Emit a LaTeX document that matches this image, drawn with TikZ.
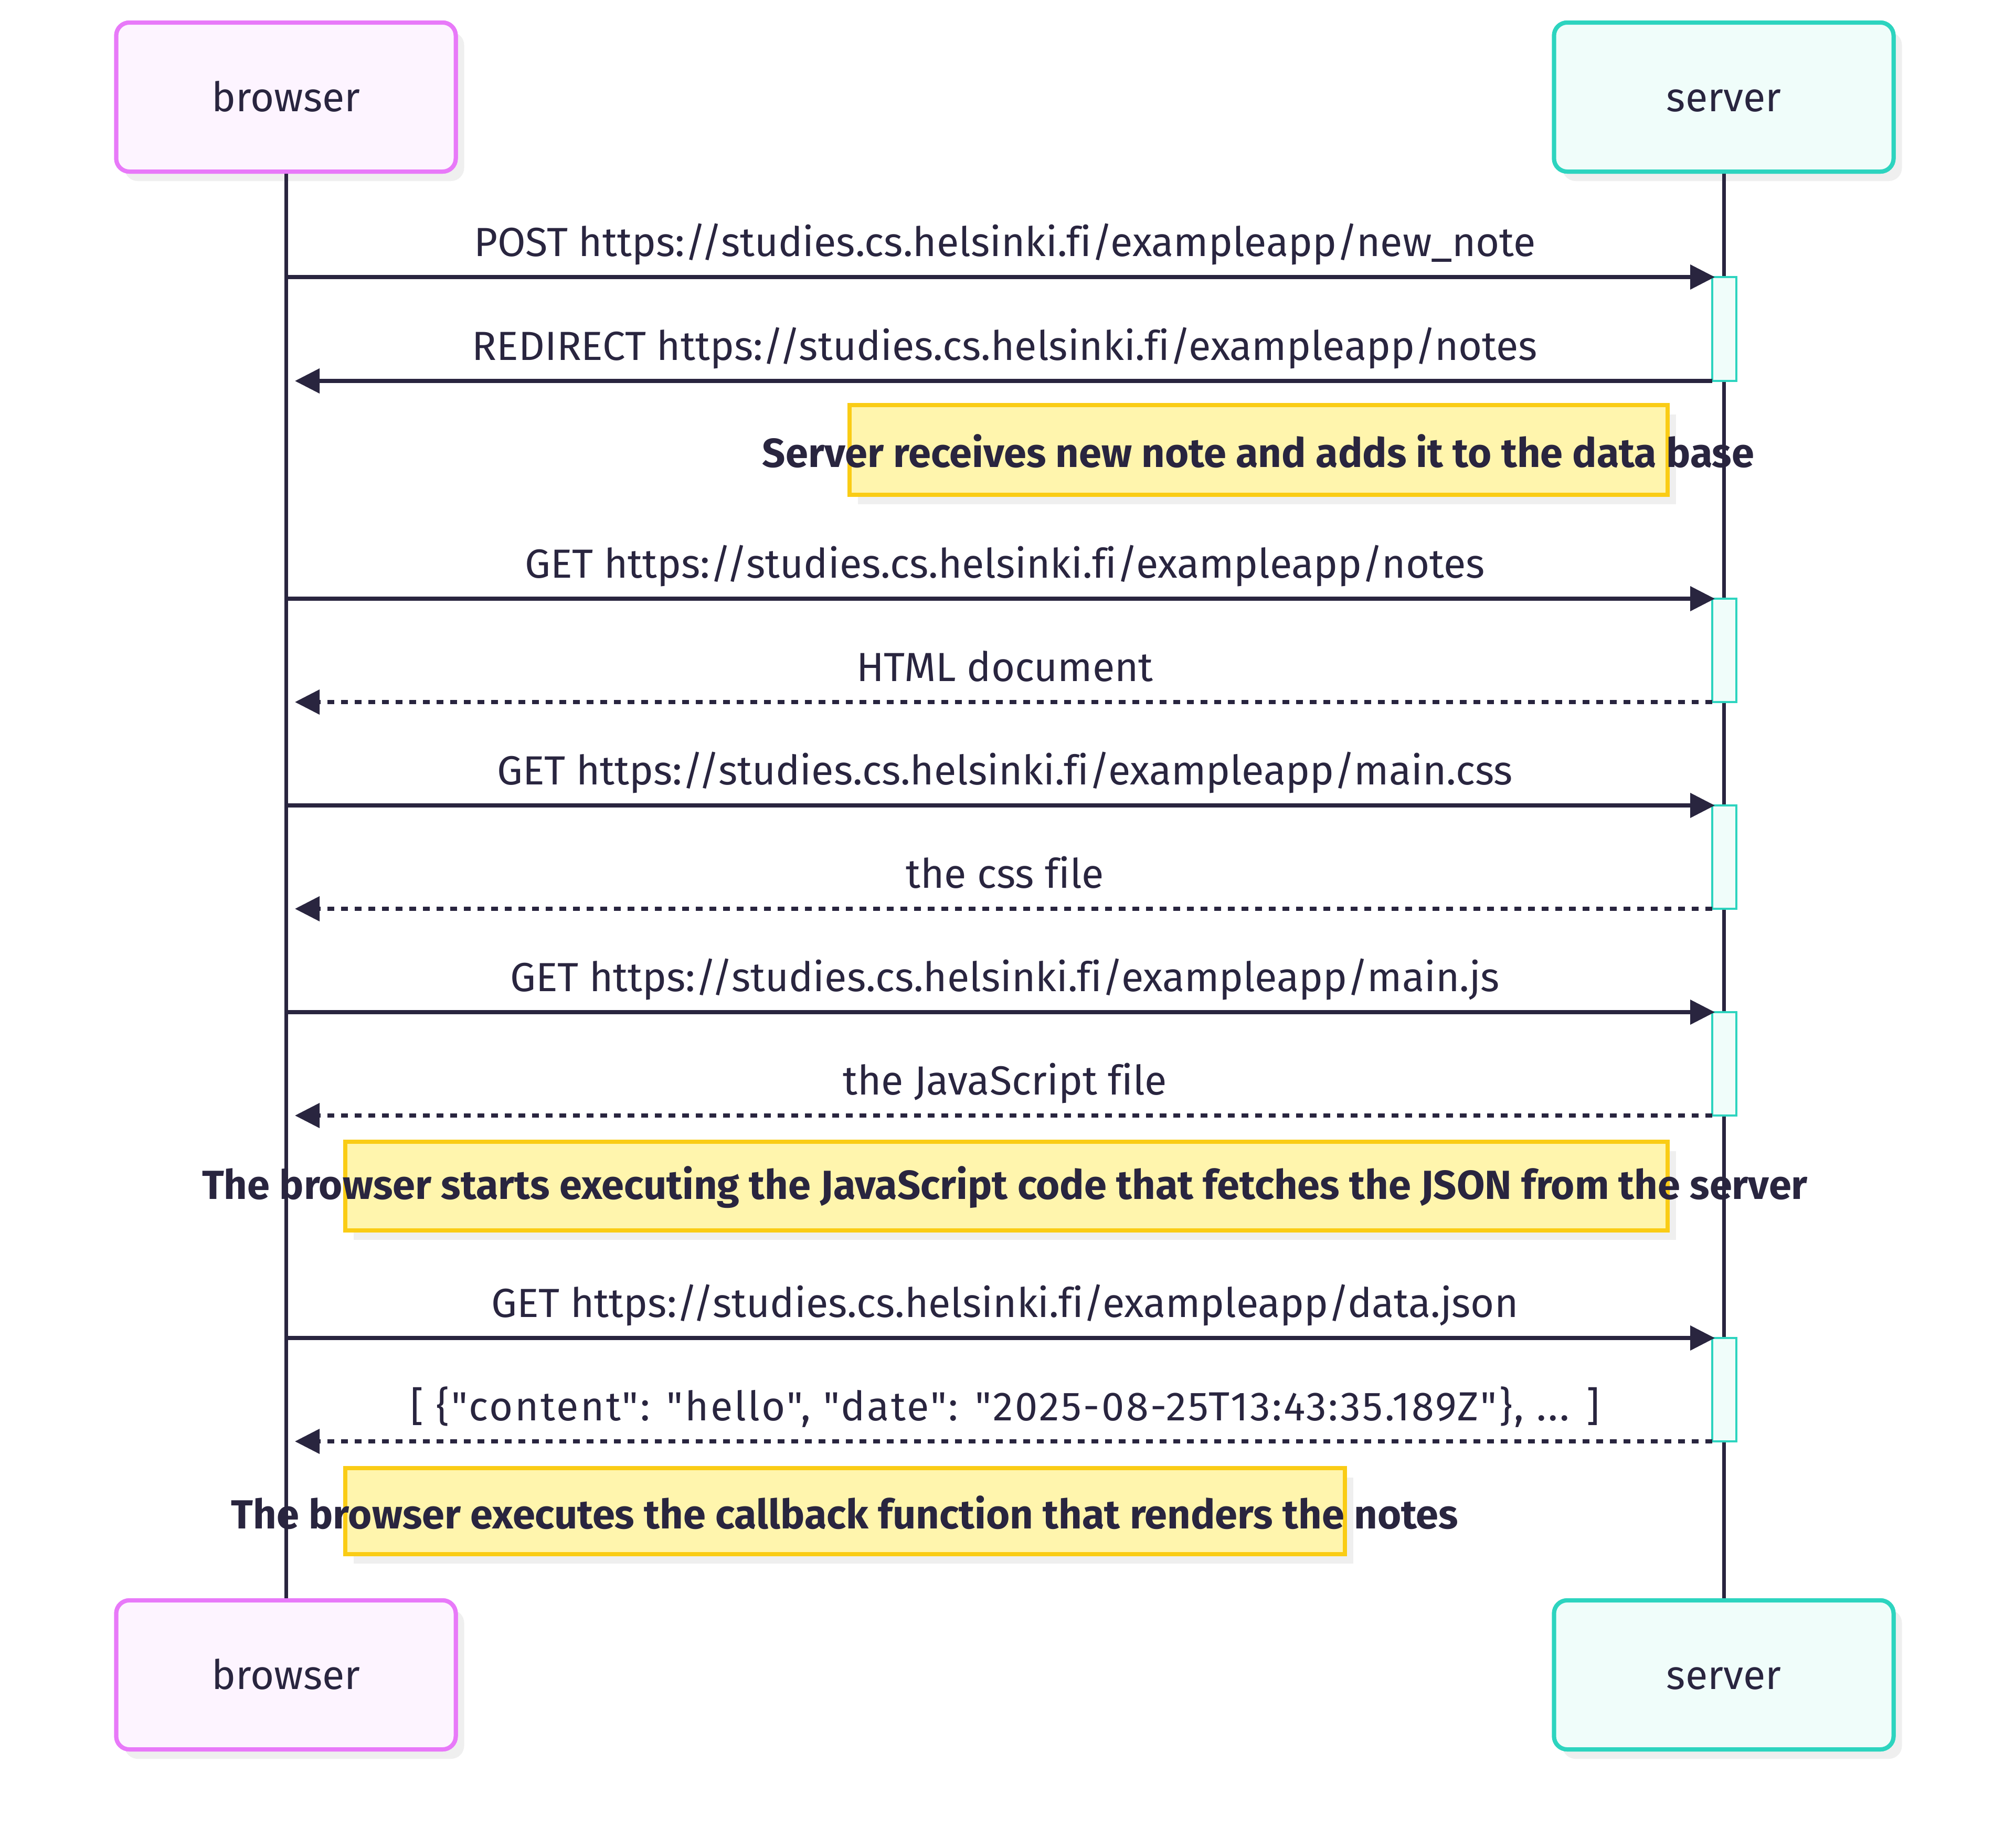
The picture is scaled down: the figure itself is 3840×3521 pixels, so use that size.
\documentclass[tikz,border=0pt]{standalone}
\usepackage{fontspec}
\setmainfont{Fira Sans}[Ligatures={TeXOff,NoCommon}]
\usetikzlibrary{arrows.meta,shadows}

\definecolor{ink}{HTML}{29253F}
\definecolor{brBorder}{HTML}{E879F9}
\definecolor{brFill}{HTML}{FDF4FF}
\definecolor{svBorder}{HTML}{2DD4BF}
\definecolor{svFill}{HTML}{F0FDFA}
\definecolor{noteBorder}{HTML}{FACC15}
\definecolor{noteFill}{HTML}{FFF5AD}
\definecolor{shade}{HTML}{EFEFEF}

\newcommand{\labelfont}{\fontsize{77.5}{93}\selectfont}

\tikzset{
  x=1pt, y=-1pt,
  actor/.style={rectangle, rounded corners=25pt, line width=8pt,
    minimum width=647pt, minimum height=284pt, inner sep=0pt,
    text height=64pt, text depth=10pt,
    text=ink, font=\labelfont},
  shadowed/.style={drop shadow={shadow xshift=16pt, shadow yshift=-18pt, fill=shade, opacity=1}},
  brActor/.style={actor, draw=brBorder, fill=brFill},
  svActor/.style={actor, draw=svBorder, fill=svFill},
  notebox/.style={draw=noteBorder, fill=noteFill, line width=8pt, shadowed},
  notetext/.style={text=ink, font=\labelfont\bfseries, inner sep=0pt},
  msg/.style={text=ink, font=\labelfont, inner sep=0pt, anchor=base},
  lifeline/.style={draw=ink, line width=7pt},
  act/.style={draw=svBorder, fill=svFill, line width=4pt},
  call/.style={draw=ink, line width=7.5pt, -{Triangle[length=47pt,width=46pt]}},
  reply/.style={call, dash pattern=on 13pt off 13pt},
}

\begin{document}
\begin{tikzpicture}
\useasboundingbox[fill=white] (0,0) rectangle (3840,3521);

% participants with their shadows
\node[brActor, shadowed] (browserTop) at (545,185) {browser};
\node[svActor, shadowed] (serverTop) at (3285,185) {server};
\node[brActor, shadowed] (browserBot) at (545,3192) {browser};
\node[svActor, shadowed] (serverBot) at (3285,3192) {server};

% notes (text may run past the box edges)
\draw[notebox] (1619,772) rectangle (3178,943);
\node[notetext] (note1) at (2398,860) {Server receives new note and adds it to the data base};
\draw[notebox] (658,2176) rectangle (3178,2345);
\node[notetext] (note2) at (1915,2263) {The browser starts executing the JavaScript code that fetches the JSON from the server};
\draw[notebox] (658,2798) rectangle (2563,2962);
\node[notetext] (note3) at (1610,2883) {The browser executes the callback function that renders the notes};

% lifelines, then the participant boxes again on top of them
\draw[lifeline] (browserTop.south) -- (browserBot.north);
\draw[lifeline] (serverTop.south) -- (serverBot.north);
\node[brActor] at (browserTop) {browser};
\node[svActor] at (serverTop) {server};
\node[brActor] at (browserBot) {browser};
\node[svActor] at (serverBot) {server};

% activation bars on the server
\foreach \ya/\yb in {528/726, 1141/1338, 1535/1732, 1929/2126, 2550/2747}
  \draw[act] (3263,\ya) rectangle (3309,\yb);

% message end points
\foreach \i/\y in {1/528, 2/726, 3/1141, 4/1338, 5/1535, 6/1732, 7/1929, 8/2126, 9/2550, 10/2747} {
  \coordinate (b\i) at (545,\y);
  \coordinate (bt\i) at (562,\y);
  \coordinate (s\i) at (3263,\y);
  \coordinate (st\i) at (3268,\y);
}

% messages
\draw[call] (b1) -- (st1);
\node[msg] (m1) at (1915,488) {POST https://studies.cs.helsinki.fi/exampleapp/new\_note};
\draw[call] (s2) -- (bt2);
\node[msg] (m2) at (1915,686) {REDIRECT https://studies.cs.helsinki.fi/exampleapp/notes};
\draw[call] (b3) -- (st3);
\node[msg] (m3) at (1915,1101) {GET https://studies.cs.helsinki.fi/exampleapp/notes};
\draw[reply] (s4) -- (bt4);
\node[msg] (m4) at (1915,1298) {HTML document};
\draw[call] (b5) -- (st5);
\node[msg] (m5) at (1915,1495) {GET https://studies.cs.helsinki.fi/exampleapp/main.css};
\draw[reply] (s6) -- (bt6);
\node[msg] (m6) at (1915,1692) {the css file};
\draw[call] (b7) -- (st7);
\node[msg] (m7) at (1915,1889) {GET https://studies.cs.helsinki.fi/exampleapp/main.js};
\draw[reply] (s8) -- (bt8);
\node[msg] (m8) at (1915,2086) {the JavaScript file};
\draw[call] (b9) -- (st9);
\node[msg] (m9) at (1915,2510) {GET https://studies.cs.helsinki.fi/exampleapp/data.json};
\draw[reply] (s10) -- (bt10);
\node[msg] (m10) at (1915,2707) {\addfontfeature{LetterSpace=4.5}[ \{"content": "hello", "date": "2025-08-25T13:43:35.189Z"\}, ... ]};
\end{tikzpicture}
\end{document}
